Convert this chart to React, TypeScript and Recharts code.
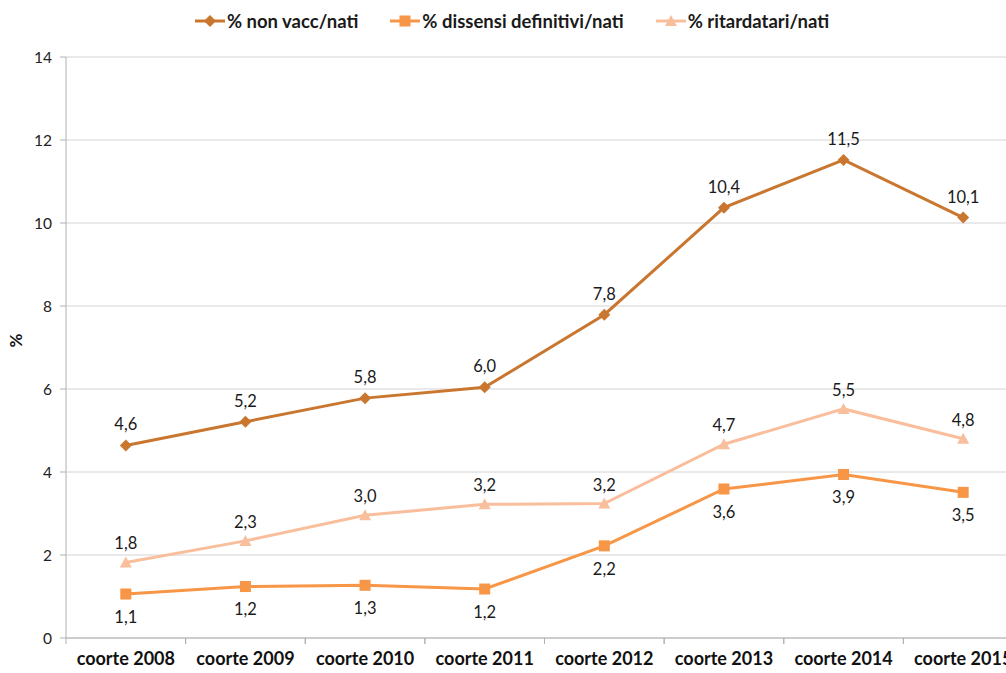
import React from 'react';
import { LineChart, Line, XAxis, YAxis, CartesianGrid, LabelList } from 'recharts';

const categories = ['coorte 2008', 'coorte 2009', 'coorte 2010', 'coorte 2011', 'coorte 2012', 'coorte 2013', 'coorte 2014', 'coorte 2015'];
const nonVacc = [4.64, 5.21, 5.78, 6.04, 7.79, 10.37, 11.52, 10.13];
const dissensi = [1.06, 1.24, 1.27, 1.18, 2.22, 3.59, 3.94, 3.51];
const ritardatari = [1.82, 2.34, 2.96, 3.22, 3.24, 4.67, 5.52, 4.8];
const yTicks = [0, 2, 4, 6, 8, 10, 12, 14];

const C_NON = '#C9762F';
const C_DIS = '#F79646';
const C_RIT = '#F9BE9C';
const AXIS = '#b0b0b0';

const data = categories.map((c, i) => ({ cat: c, nonVacc: nonVacc[i], dissensi: dissensi[i], ritardatari: ritardatari[i] }));

const FONT = 'Lato, "Open Sans", sans-serif';
const fmt = (v: any) => Number(v).toFixed(1).replace('.', ',');

const Diamond = (p: any) => {
  const { cx, cy, fill } = p;
  if (cx == null || cy == null) return null;
  return <path d={`M${cx},${cy - 6}L${cx + 6},${cy}L${cx},${cy + 6}L${cx - 6},${cy}Z`} fill={fill} />;
};
const Square = (p: any) => {
  const { cx, cy, fill } = p;
  if (cx == null || cy == null) return null;
  return <rect x={cx - 5.5} y={cy - 5.5} width={11} height={11} fill={fill} />;
};
const Triangle = (p: any) => {
  const { cx, cy, fill } = p;
  if (cx == null || cy == null) return null;
  return <path d={`M${cx},${cy - 6}L${cx + 6},${cy + 5}L${cx - 6},${cy + 5}Z`} fill={fill} />;
};

const CatTick = (p: any) => {
  const { x, y, payload } = p;
  const off = payload && payload.offset ? payload.offset : 0;
  return (
    <g>
      <line x1={x - off} y1={y} x2={x - off} y2={y + 6} stroke={AXIS} />
      <line x1={x + off} y1={y} x2={x + off} y2={y + 6} stroke={AXIS} />
      <text x={x} y={y + 14} dy="0.71em" textAnchor="middle" style={{ fontFamily: FONT, fontWeight: 700, fontSize: 18, fill: '#111' }}>
        {payload.value}
      </text>
    </g>
  );
};

const legendItems = [
  { name: '% non vacc/nati', color: C_NON, Shape: Diamond },
  { name: '% dissensi definitivi/nati', color: C_DIS, Shape: Square },
  { name: '% ritardatari/nati', color: C_RIT, Shape: Triangle },
];

const LegendBar = () => (
  <div style={{ position: 'absolute', left: 0, top: 10, width: 1006, display: 'flex', justifyContent: 'center', fontFamily: FONT, fontWeight: 700, fontSize: 18.5, color: '#1a1a1a', zIndex: 2 }}>
    <div style={{ display: 'flex', alignItems: 'center', marginLeft: 18 }}>
      {legendItems.map((it, i) => (
        <div key={i} style={{ display: 'flex', alignItems: 'center', marginRight: i < 2 ? 32 : 0 }}>
          <svg width={30} height={22}>
            <line x1={0} y1={11} x2={30} y2={11} stroke={it.color} strokeWidth={3} />
            <it.Shape cx={15} cy={11} fill={it.color} />
          </svg>
          <span style={{ marginLeft: 2, lineHeight: '22px' }}>{it.name}</span>
        </div>
      ))}
    </div>
  </div>
);

export default function App() {
  return (
    <div style={{ position: 'absolute', left: 0, top: 0, width: 1006, height: 673, overflow: 'hidden', background: '#fff' }}>
      <LegendBar />
      <div style={{ position: 'absolute', left: 0, top: 0 }}>
        <LineChart width={1030} height={673} data={data} margin={{ top: 57, right: 7, bottom: 0, left: 16 }}>
          <CartesianGrid vertical={false} stroke="#d4d4d4" strokeWidth={1} />
          <XAxis dataKey="cat" scale="band" height={35} axisLine={{ stroke: AXIS }} tickLine={false} interval={0}
            tickSize={0} tickMargin={0} tick={<CatTick />} />
          <YAxis domain={[0, 14]} ticks={yTicks} width={50} axisLine={{ stroke: AXIS }} tickLine={{ stroke: AXIS }} tickSize={6}
            tick={{ fontFamily: FONT, fontSize: 15.5, fill: '#222' }} tickMargin={8}
            label={{ value: '%', angle: -90, position: 'insideLeft', offset: 0, style: { fontFamily: FONT, fontWeight: 700, fontSize: 17, fill: '#111' } }} />
          <Line dataKey="nonVacc" stroke={C_NON} strokeWidth={3} dot={<Diamond fill={C_NON} />} isAnimationActive={false}>
            <LabelList dataKey="nonVacc" position="top" offset={15} formatter={fmt} style={{ fontFamily: FONT, fontSize: 16.5, fill: '#1a1a1a' }} />
          </Line>
          <Line dataKey="dissensi" stroke={C_DIS} strokeWidth={3} dot={<Square fill={C_DIS} />} isAnimationActive={false}>
            <LabelList dataKey="dissensi" position="bottom" offset={17} formatter={fmt} style={{ fontFamily: FONT, fontSize: 16.5, fill: '#1a1a1a' }} />
          </Line>
          <Line dataKey="ritardatari" stroke={C_RIT} strokeWidth={3} dot={<Triangle fill={C_RIT} />} isAnimationActive={false}>
            <LabelList dataKey="ritardatari" position="top" offset={13} formatter={fmt} style={{ fontFamily: FONT, fontSize: 16.5, fill: '#1a1a1a' }} />
          </Line>
        </LineChart>
      </div>
    </div>
  );
}
